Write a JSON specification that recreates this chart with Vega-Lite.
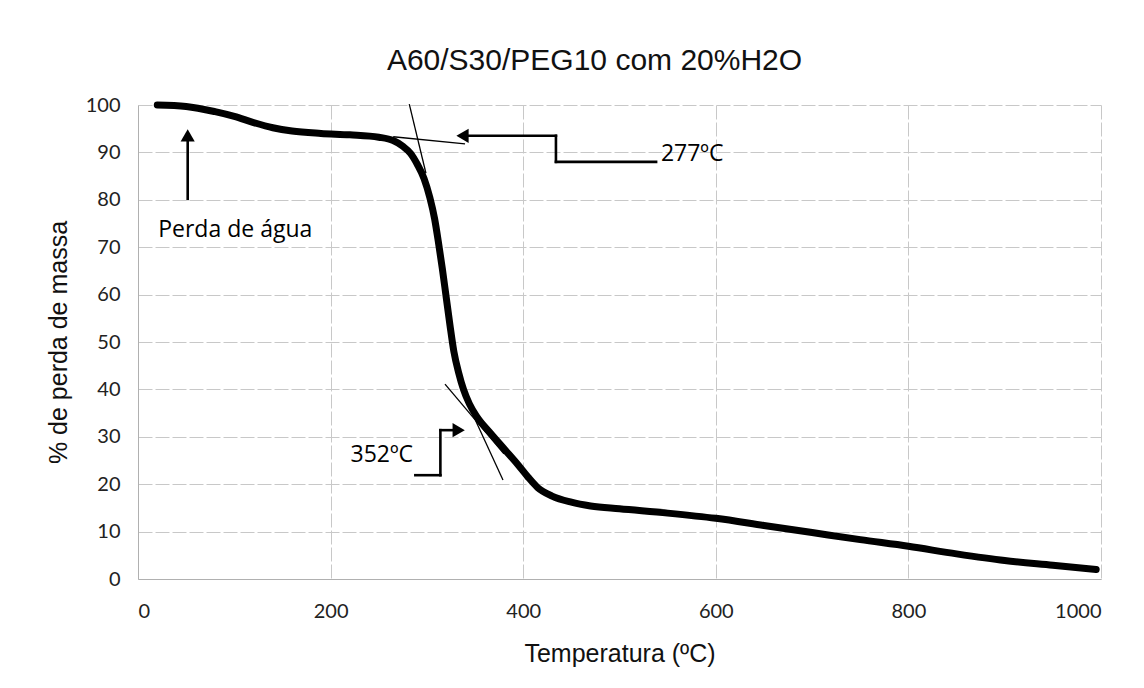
{
  "$schema": "https://vega.github.io/schema/vega-lite/v6.json",
  "autosize": {"type": "none"},
  "width": 963,
  "height": 474,
  "padding": {"left": 138, "top": 105, "right": 43, "bottom": 109},
  "background": "white",
  "title": {
    "text": "A60/S30/PEG10 com 20%H2O",
    "font": "Liberation Sans",
    "fontSize": 30,
    "fontWeight": "normal",
    "color": "#111",
    "anchor": "middle",
    "dx": -25,
    "offset": 19
  },
  "config": {
    "view": {"stroke": null},
    "axis": {
      "grid": true,
      "gridColor": "#c8c8c8",
      "gridDash": [14, 3],
      "gridWidth": 1,
      "domainColor": "#b0b0b0",
      "ticks": false,
      "labelFont": "Lato",
      "labelFontSize": 20,
      "labelColor": "#222",
      "titleFont": "Liberation Sans",
      "titleFontSize": 25,
      "titleFontWeight": "normal",
      "titleColor": "#111"
    }
  },
  "datasets": {
    "curve": [
      {"T": 20, "W": 100}, {"T": 50, "W": 99.7}, {"T": 80, "W": 98.6}, {"T": 100, "W": 97.6},
      {"T": 120, "W": 96.3}, {"T": 140, "W": 95.2}, {"T": 160, "W": 94.5}, {"T": 190, "W": 94.0},
      {"T": 220, "W": 93.7}, {"T": 250, "W": 93.2}, {"T": 265, "W": 92.5}, {"T": 275, "W": 91.3},
      {"T": 283, "W": 89.8}, {"T": 290, "W": 87.5}, {"T": 297, "W": 84.5}, {"T": 303, "W": 80.5},
      {"T": 308, "W": 76}, {"T": 312, "W": 71}, {"T": 316, "W": 65.5}, {"T": 320, "W": 59.5},
      {"T": 324, "W": 53.5}, {"T": 328, "W": 48}, {"T": 333, "W": 43.5}, {"T": 338, "W": 40},
      {"T": 344, "W": 37}, {"T": 352, "W": 34.2}, {"T": 365, "W": 31}, {"T": 380, "W": 27.5},
      {"T": 395, "W": 24}, {"T": 405, "W": 21.5}, {"T": 415, "W": 19.3}, {"T": 430, "W": 17.5},
      {"T": 450, "W": 16.2}, {"T": 470, "W": 15.4}, {"T": 500, "W": 14.8}, {"T": 550, "W": 13.9},
      {"T": 600, "W": 12.8}, {"T": 650, "W": 11.3}, {"T": 700, "W": 9.8}, {"T": 750, "W": 8.3},
      {"T": 800, "W": 6.9}, {"T": 850, "W": 5.3}, {"T": 900, "W": 3.9}, {"T": 950, "W": 2.9},
      {"T": 995, "W": 2.0}
    ],
    "tangents": [
      {"x": 281.7, "y": 100.2, "x2": 299, "y2": 85.6},
      {"x": 265, "y": 93.3, "x2": 339.6, "y2": 91.8},
      {"x": 318.8, "y": 41.1, "x2": 380, "y2": 26.4},
      {"x": 347.9, "y": 34.6, "x2": 379, "y2": 20.9}
    ],
    "arrows": [
      {"x": 51.6, "y": 80.2, "x2": 51.6, "y2": 92.5},
      {"x": 434, "y": 93.5, "x2": 336, "y2": 93.5},
      {"x": 434, "y": 93.5, "x2": 434, "y2": 88},
      {"x": 434, "y": 88, "x2": 538, "y2": 88},
      {"x": 288, "y": 21.9, "x2": 314, "y2": 21.9},
      {"x": 314, "y": 21.9, "x2": 314, "y2": 31.4},
      {"x": 314, "y": 31.4, "x2": 333, "y2": 31.4}
    ],
    "heads": [
      {"x": 51.6, "y": 93.6, "shape": "triangle-up"},
      {"x": 337, "y": 93.5, "shape": "triangle-left"},
      {"x": 333, "y": 31.4, "shape": "triangle-right"}
    ],
    "labelsLeft": [
      {"x": 21, "y": 73.6, "label": "Perda de água"},
      {"x": 543, "y": 89.7, "label": "277ºC"}
    ],
    "labelsRight": [
      {"x": 285.6, "y": 26.2, "label": "352ºC"}
    ]
  },
  "layer": [
    {
      "data": {"name": "curve"},
      "mark": {"type": "line", "color": "#000", "strokeWidth": 7, "strokeCap": "round", "strokeJoin": "round", "interpolate": "monotone"},
      "encoding": {
        "x": {"field": "T", "type": "quantitative", "scale": {"domain": [0, 1000], "nice": false},
              "axis": {"values": [0, 200, 400, 600, 800, 1000], "format": "d", "title": "Temperatura (ºC)", "labelPadding": 22, "titlePadding": 20}},
        "y": {"field": "W", "type": "quantitative", "scale": {"domain": [0, 100], "nice": false},
              "axis": {"values": [0, 10, 20, 30, 40, 50, 60, 70, 80, 90, 100], "title": "% de perda de massa", "labelPadding": 18, "titlePadding": 14}}
      }
    },
    {
      "data": {"name": "tangents"},
      "mark": {"type": "rule", "color": "#000", "strokeWidth": 1.3},
      "encoding": {
        "x": {"field": "x", "type": "quantitative"},
        "y": {"field": "y", "type": "quantitative"},
        "x2": {"field": "x2"},
        "y2": {"field": "y2"}
      }
    },
    {
      "data": {"name": "arrows"},
      "mark": {"type": "rule", "color": "#000", "strokeWidth": 2.6, "strokeCap": "square"},
      "encoding": {
        "x": {"field": "x", "type": "quantitative"},
        "y": {"field": "y", "type": "quantitative"},
        "x2": {"field": "x2"},
        "y2": {"field": "y2"}
      }
    },
    {
      "data": {"name": "heads"},
      "mark": {"type": "point", "filled": true, "color": "#000", "size": 200, "opacity": 1},
      "encoding": {
        "x": {"field": "x", "type": "quantitative"},
        "y": {"field": "y", "type": "quantitative"},
        "shape": {"field": "shape", "type": "nominal", "scale": null}
      }
    },
    {
      "data": {"name": "labelsLeft"},
      "mark": {"type": "text", "align": "left", "baseline": "middle", "font": "Open Sans", "fontSize": 23, "color": "#000"},
      "encoding": {
        "x": {"field": "x", "type": "quantitative"},
        "y": {"field": "y", "type": "quantitative"},
        "text": {"field": "label"}
      }
    },
    {
      "data": {"name": "labelsRight"},
      "mark": {"type": "text", "align": "right", "baseline": "middle", "font": "Open Sans", "fontSize": 23, "color": "#000"},
      "encoding": {
        "x": {"field": "x", "type": "quantitative"},
        "y": {"field": "y", "type": "quantitative"},
        "text": {"field": "label"}
      }
    }
  ]
}
